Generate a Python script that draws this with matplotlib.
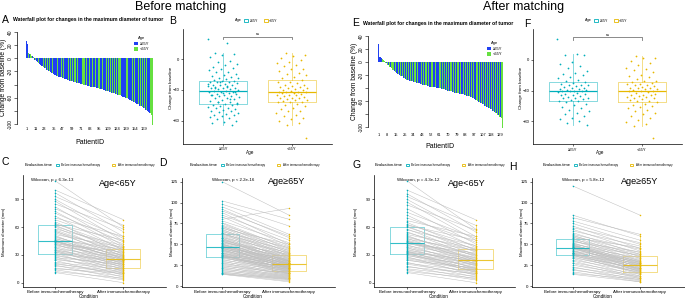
import numpy as np
import matplotlib.pyplot as plt
from matplotlib.patches import Patch

plt.rcParams['font.family'] = ['Liberation Sans', 'DejaVu Sans']

# ---- data: % change from baseline (waterfall + jitter boxes) ----
chg_before_ge65 = [27, 21, 8, 7, 5, 3,
                   -2, -4, -6, -8, -10, -11, -12, -14, -16, -17, -19, -21, -22, -23, -24, -25, -26,
                   -27, -28, -28, -29, -30, -30, -31, -32, -33, -33, -34, -35, -35, -36, -37, -37, -38, -39, -39, -40,
                   -41, -41, -42, -43, -43, -44, -45, -45, -46, -47, -48, -48, -49, -50,
                   -51, -52, -53, -54, -55, -56, -57, -58, -59, -60, -61, -62, -63, -64, -65,
                   -66, -67, -68, -69, -70, -71, -72, -73, -74, -75, -77, -78, -80, -82, -83, -85,
                   -29, -32, -36, -38, -42, -44, -47, -52, -55, -58]
chg_before_lt65 = [8, 6, 4, 2,
                   -1, -3, -5, -7, -9, -12, -13, -15, -18, -19, -20, -23, -25, -27,
                   -29, -30, -31, -33, -34, -35, -36, -36, -37, -38, -39, -40, -40, -41, -42, -42,
                   -43, -43, -44, -44, -45, -46, -47, -47, -48, -49, -50, -50, -51, -52, -53, -53, -54, -55, -55, -56,
                   -58, -60, -61, -63, -65, -67, -68, -70, -72, -74, -76, -78, -80, -83, -86,
                   -102]
chg_after_ge65 = [27, 8, 7, 6,
                  -2, -5, -8, -11, -14, -17, -18, -20, -22, -24, -26, -28,
                  -29, -30, -31, -32, -33, -33, -34, -35, -36, -37, -38, -38, -39, -39, -40, -40, -40,
                  -41, -42, -43, -44, -44, -45, -46, -47, -48, -49, -50, -50, -51, -52, -53, -54, -55,
                  -57, -59, -61, -63, -65, -67, -69, -71, -73, -75, -77, -79, -82, -85]
chg_after_lt65 = [5, 3, 2,
                  -1, -4, -7, -10, -12, -13, -16, -19, -21, -22, -25, -27, -28,
                  -29, -30, -31, -31, -32, -33, -34, -35, -36, -36, -37, -38, -38, -39, -40, -40,
                  -41, -42, -43, -44, -45, -45, -46, -47, -48, -48, -49, -50, -51, -52, -53, -54, -55,
                  -57, -59, -60, -61, -63, -65, -67, -69, -71, -73, -75, -78, -81, -84, -86,
                  -102]

wf_labels_before = ['1', '11', '23', '35', '47', '59', '71', '83', '95', '109', '124', '139', '154', '169']
wf_labels_after = ['1', '8', '15', '25', '34', '43', '52', '61', '70', '79', '88', '97', '107', '118', '129']

# ---- data: maximum diameter (mm), paired before / after ----
diam_C_before = [110, 100, 97, 93, 90, 88, 85, 82, 80, 77, 75, 72, 70, 68, 66, 64, 63, 62,
                 61, 60, 58, 57, 56, 55, 54, 52, 51, 50, 49, 48, 47, 46, 46, 45, 45, 44,
                 44, 43, 42, 42, 41, 40, 39, 38, 37, 36, 35, 35, 34, 33, 33, 32,
                 31, 30, 29, 28, 27, 26, 25, 24, 22, 21, 20, 19, 18, 16, 15, 14, 12, 11]
diam_C_after = [60, 68, 55, 62, 50, 45, 58, 40, 48, 38, 44, 35, 50, 42, 30, 37, 46, 33,
                36, 28, 40, 31, 25, 34, 29, 38, 22, 27, 32, 24, 36, 20, 29, 26, 18, 30,
                27, 23, 33, 16, 25, 28, 21, 14, 26, 19, 24, 12, 22, 17, 20, 10,
                23, 15, 18, 8, 20, 13, 16, 6, 14, 9, 12, 4, 11, 7, 10, 3, 5, 0]

diam_D_before = [125, 102, 98, 95, 92, 90, 88, 85, 83, 80, 78, 76, 75, 73, 72, 71, 70, 69, 68, 67, 66, 65, 64, 63, 63,
                 62, 61, 60, 59, 58, 57, 57, 56, 55, 55, 54, 54, 53, 52, 52, 51, 50, 50, 49, 49, 48, 48, 48, 47,
                 47, 46, 46, 45, 45, 44, 44, 43, 43, 42, 42, 41, 40, 40, 39, 39, 38, 38, 37, 37, 37, 36, 36, 35,
                 36, 35, 34, 33, 32, 31, 30, 29, 28, 27, 26, 25, 24, 23, 22, 21, 20, 19, 18, 17, 16, 15, 15, 14, 14]
diam_D_after = [85, 80, 72, 62, 58, 60, 50, 55, 48, 93, 52, 45, 42, 47, 40, 44, 38, 50, 36, 41, 35, 46, 33, 39, 30,
                43, 37, 32, 28, 40, 34, 26, 31, 36, 30, 29, 24, 33, 27, 38, 22, 30, 25, 28, 35, 20, 31, 26, 23,
                29, 32, 21, 27, 24, 30, 18, 26, 22, 28, 19, 25, 23, 17, 27, 21, 24, 16, 20, 25, 15, 22, 18, 14,
                21, 19, 17, 23, 15, 20, 13, 18, 12, 16, 14, 11, 15, 10, 13, 9, 12, 8, 11, 7, 10, 6, 9, 5, 8]

diam_G_before = [110, 100, 96, 93, 90, 87, 84, 80, 76, 73, 70, 67, 65, 63, 62, 61,
                 60, 58, 57, 55, 54, 52, 51, 50, 49, 48, 47, 46, 45, 45, 44, 44,
                 43, 42, 41, 40, 39, 38, 37, 36, 35, 34, 34, 33, 33, 32, 32, 31,
                 31, 30, 29, 28, 27, 26, 25, 24, 22, 21, 20, 18, 17, 15, 14, 12, 11]
diam_G_after = [58, 68, 55, 62, 50, 46, 57, 42, 48, 38, 44, 50, 35, 40, 46, 33,
                36, 30, 40, 28, 34, 37, 24, 29, 31, 22, 35, 27, 20, 26, 30, 25,
                23, 32, 18, 27, 21, 15, 25, 19, 23, 13, 21, 16, 24, 11, 20, 14,
                17, 12, 19, 8, 15, 13, 10, 16, 6, 12, 9, 4, 10, 7, 3, 5, 0]

diam_H_before = [120, 85, 82, 78, 75, 72, 70, 68, 66, 64, 62, 61, 60, 59, 58, 57,
                 56, 55, 54, 53, 52, 51, 50, 50, 49, 49, 48, 48, 47, 47, 47, 46,
                 46, 45, 45, 44, 43, 42, 42, 41, 40, 40, 39, 39, 38, 38, 37, 37,
                 36, 35, 34, 33, 31, 30, 28, 27, 25, 23, 22, 20, 19, 17, 15, 14]
diam_H_after = [85, 60, 62, 55, 50, 45, 52, 42, 48, 38, 44, 35, 40, 33, 46, 30,
                38, 28, 36, 41, 26, 32, 24, 37, 29, 22, 34, 27, 20, 31, 25, 28,
                19, 30, 23, 26, 17, 29, 21, 24, 18, 27, 15, 22, 20, 25, 14, 19,
                21, 16, 18, 12, 17, 10, 14, 9, 12, 7, 11, 6, 9, 5, 8, 5]

TEAL = '#00AFBB'
GOLD = '#E7B800'
BLUE = '#2040F2'
GREEN = '#66E040'

W, H = 685, 301
fig = plt.figure(figsize=(W / 100, H / 100), dpi=100)


def add_ax(x0, y0, x1, y1):
    # pixel box (top-left origin) -> figure axes
    return fig.add_axes([x0 / W, 1 - y1 / H, (x1 - x0) / W, (y1 - y0) / H])


def ftext(x, y, s, **kw):
    kw.setdefault('ha', 'center')
    kw.setdefault('va', 'center')
    fig.text(x / W, 1 - y / H, s, **kw)


def waterfall(x_axis, x_bar0, x_bar1, y_zero, ppu, ge, lt, labels, step, lab_pad):
    vals = np.array(ge + lt, dtype=float)
    grp = np.array([1] * len(ge) + [0] * len(lt))
    order = np.argsort(-vals, kind='stable')
    v = vals[order]
    cols = [BLUE if g else GREEN for g in grp[order]]
    n = len(v)
    bw = (x_bar1 - x_bar0) / n
    ax = add_ax(x_axis, y_zero - 51 * ppu, x_bar1 + 4, y_zero + 101 * ppu)
    ax.set_xlim(-(x_bar0 - x_axis) / bw, n + 4 / bw)
    ax.set_ylim(-101, 51)
    ax.bar(np.arange(n), v, width=1.0, align='edge', color=cols, linewidth=0, antialiased=False)
    for s in ['top', 'right', 'bottom']:
        ax.spines[s].set_visible(False)
    ax.spines['left'].set_bounds(-100, 40)
    ax.spines['left'].set_linewidth(0.5)
    ax.set_yticks([40, 20, 0, -20, -40, -60, -80, -100])
    ax.set_yticklabels(['40', '20', '0', '-20', '', '-60', '', '-100'],
                       rotation=90, va='center', fontsize=3.5)
    ax.tick_params(axis='y', length=2, width=0.4, pad=1)
    ax.set_xticks(np.arange(len(labels)) * step + 0.5)
    ax.set_xticklabels(labels, fontsize=2.9)
    ax.tick_params(axis='x', length=0, pad=lab_pad)
    ax.patch.set_alpha(0)
    return ax


def box_jitter(x0, x1, y_zero, ge, lt):
    ppu = 0.7675
    ax = add_ax(x0, y_zero - 40 * ppu, x1, y_zero + 110 * ppu)
    ax.set_ylim(-110, 40)
    ax.set_xlim(-0.59, 1.59)
    for i, (vals, col) in enumerate([(ge, TEAL), (lt, GOLD)]):
        ax.boxplot(vals, positions=[i], widths=0.7, showfliers=False,
                   boxprops=dict(color=col, lw=0.6, alpha=0.55),
                   whiskerprops=dict(color=col, lw=0.6, alpha=0.55),
                   capprops=dict(lw=0),
                   medianprops=dict(color=col, lw=0.9))
        k = np.arange(len(vals))
        jit = ((k * 0.618034 + 0.31 * i) % 1 - 0.5) * 0.46
        ax.scatter(i + jit, vals, s=1.6, color=col, lw=0, zorder=3)
    ax.plot([0, 0, 1, 1], [26.5, 29.5, 29.5, 26.5], color='#777777', lw=0.6)
    ax.text(0.5, 30.5, 'ns', fontsize=2.8, ha='center', va='bottom')
    for s in ['top', 'right']:
        ax.spines[s].set_visible(False)
    for s in ['left', 'bottom']:
        ax.spines[s].set_linewidth(0.5)
    ax.set_yticks([0, -40, -80])
    ax.set_xticks([0, 1])
    ax.set_xticklabels(['≥65Y', '<65Y'])
    ax.tick_params(labelsize=3.0, length=1.5, width=0.4, pad=1)
    ax.patch.set_alpha(0)
    return ax


def paired(x0, x1, y_zero, ppu, ylo, yhi, yticks, xlo, xhi, before, after):
    ax = add_ax(x0, y_zero - yhi * ppu, x1, y_zero - ylo * ppu)
    ax.set_ylim(ylo, yhi)
    ax.set_xlim(xlo, xhi)
    b = np.array(before, dtype=float)
    a = np.array(after, dtype=float)
    for i, (vals, col) in enumerate([(b, TEAL), (a, GOLD)]):
        ax.boxplot(vals, positions=[i], widths=0.5, showfliers=False,
                   boxprops=dict(color=col, lw=0.6, alpha=0.55),
                   whiskerprops=dict(color=col, lw=0.6, alpha=0.55),
                   capprops=dict(lw=0),
                   medianprops=dict(color=col, lw=0.8, alpha=0.8))
    ax.plot(np.vstack([np.zeros(len(b)), np.ones(len(a))]), np.vstack([b, a]),
            color='#BDBDBD', lw=0.35, zorder=2)
    ax.scatter(np.zeros(len(b)), b, s=1.2, color=TEAL, lw=0, zorder=3)
    ax.scatter(np.ones(len(a)), a, s=1.2, color=GOLD, lw=0, zorder=3)
    for s in ['top', 'right']:
        ax.spines[s].set_visible(False)
    for s in ['left', 'bottom']:
        ax.spines[s].set_linewidth(0.5)
    ax.set_yticks(yticks)
    ax.set_xticks([0, 1])
    ax.set_xticklabels(['Before immunochemotherapy', 'After immunochemotherapy'])
    ax.tick_params(labelsize=3.2, length=1.5, width=0.4, pad=1)
    ax.patch.set_alpha(0)
    return ax


def top_legend(title, tx, ty, ix, items, fs=3.0, ifs=3.0, colsp=1.2, hpad=0.4):
    ftext(tx, ty, title, fontsize=fs)
    handles = [Patch(facecolor='white', edgecolor=c, lw=0.6, label=l) for l, c in items]
    fig.legend(handles=handles, loc='center left', bbox_to_anchor=(ix / W, 1 - ty / H),
               ncol=len(items), fontsize=ifs, frameon=False, handlelength=1.1, handleheight=1.1,
               handletextpad=hpad, columnspacing=colsp, borderpad=0, borderaxespad=0)


# ---------------- titles ----------------
ftext(181, 7, 'Before matching', fontsize=9)
ftext(524, 7, 'After matching', fontsize=9)

# ---------------- A / E : waterfall ----------------
for (xa, xb0, xb1, yz, ppu, ge, lt, labs, step, pad, letter, title_y, lab_xy, leg_xy, pid_y) in [
        (17, 26, 153, 58.3, 0.659, chg_before_ge65, chg_before_lt65, wf_labels_before, 12, 1.5,
         (5, 20), 20, (4, 77), (132, 34), 143),
        (368, 378, 502.5, 62, 0.65, chg_after_ge65, chg_after_lt65, wf_labels_after, 9, 4,
         (356, 23), 24, (355, 81.5), (485, 39), 146.7)]:
    ax = waterfall(xa, xb0, xb1, yz, ppu, ge, lt, labs, step, pad)
    ftext(*letter, 'A' if xa < 300 else 'E', fontsize=7.5)
    ftext((xa + xb1) / 2 + 3, title_y, 'Waterfall plot for changes in the maximum diameter of tumor',
          fontsize=3.7, fontweight='bold')
    ftext(*lab_xy, 'Change from baseline (%)', rotation=90, fontsize=4.8)
    ftext((xb0 + xb1) / 2, pid_y, 'PatientID', fontsize=5)
    ax.legend(handles=[Patch(facecolor=BLUE, label='≥65Y'), Patch(facecolor=GREEN, label='<65Y')],
              title='Age', fontsize=3, title_fontsize=3, frameon=False, loc='upper left',
              bbox_to_anchor=(leg_xy[0] / W, 1 - leg_xy[1] / H), bbox_transform=fig.transFigure,
              handlelength=0.9, handleheight=0.9, handletextpad=0.5, borderpad=0, labelspacing=0.35)

# ---------------- B / F : box + jitter ----------------
for (x0, x1, yz, ge, lt, letter, off) in [
        (183, 332, 59.3, chg_before_ge65, chg_before_lt65, 'B', 0),
        (532.7, 682, 60, chg_after_ge65, chg_after_lt65, 'F', 350)]:
    box_jitter(x0, x1, yz, ge, lt)
    ftext(173 + off + (4 if letter == 'F' else 0), 21 + (3 if letter == 'F' else 0), letter, fontsize=7.5)
    ftext(171.3 + off, 88, 'Change from baseline', rotation=90, fontsize=3.2)
    ftext(250 + off, 152.7, 'Age', fontsize=3.3)
    top_legend('Age', 238 + off, 20.5, 244 + off, [('≥65Y', TEAL), ('<65Y', GOLD)],
               fs=2.8, ifs=2.6, colsp=1.6)

# ---------------- C / D / G / H : paired ----------------
panels = [
    ('C', (5, 162), 22.7, 166, 282.7, 0.927, -4.3, 116, [0, 30, 60, 90], -0.473, 1.625,
     diam_C_before, diam_C_after, 'Wilcoxon, p = 6.3e-13', (52, 180), 'Age<65Y', (117.5, 183),
     (38.5, 55.5), 4),
    ('D', (163, 163), 181.7, 335, 286, 0.834, -0.8, 130, [0, 25, 50, 75, 100, 125], -0.609, 1.69,
     diam_D_before, diam_D_after, 'Wilcoxon, p < 2.2e-16', (233, 180), 'Age≥65Y', (287, 182),
     (203.5, 220.5), 171.7),
    ('G', (356.7, 165), 374.4, 515, 282.7, 0.927, -4.3, 116, [0, 30, 60, 90], -0.473, 1.575,
     diam_G_before, diam_G_after, 'Wilcoxon, p = 4.3e-12', (418, 180), 'Age<65Y', (467, 183),
     (389, 405.5), 356),
    ('H', (513, 166.7), 531.7, 685, 286, 0.834, -0.8, 130, [0, 25, 50, 75, 100, 125], -0.609, 1.67,
     diam_H_before, diam_H_after, 'Wilcoxon, p = 5.8e-12', (583, 180), 'Age≥65Y', (640, 182),
     (556.7, 573.5), 521.7),
]
for (letter, lxy, x0, x1, yz, ppu, ylo, yhi, yt, xlo, xhi, b, a, ptxt, pxy, atxt, axy, legx, ylx) in panels:
    paired(x0, x1, yz, ppu, ylo, yhi, yt, xlo, xhi, b, a)
    ftext(*lxy, letter, fontsize=7.5)
    ftext(*pxy, ptxt, fontsize=3.2)
    ftext(*axy, atxt, fontsize=6.5)
    ftext(ylx, 232, 'Maximum diameter (mm)', rotation=90, fontsize=3.2)
    ftext((x0 + x1) / 2 - 6, 296, 'Condition', fontsize=3.3)
    top_legend('Evaluation.time', legx[0], 165, legx[1],
               [('Before immunochemotherapy', TEAL), ('After immunochemotherapy', GOLD)],
               fs=3.0, ifs=2.05, colsp=4.0, hpad=1.0)

fig.savefig('out.png', dpi=100)
